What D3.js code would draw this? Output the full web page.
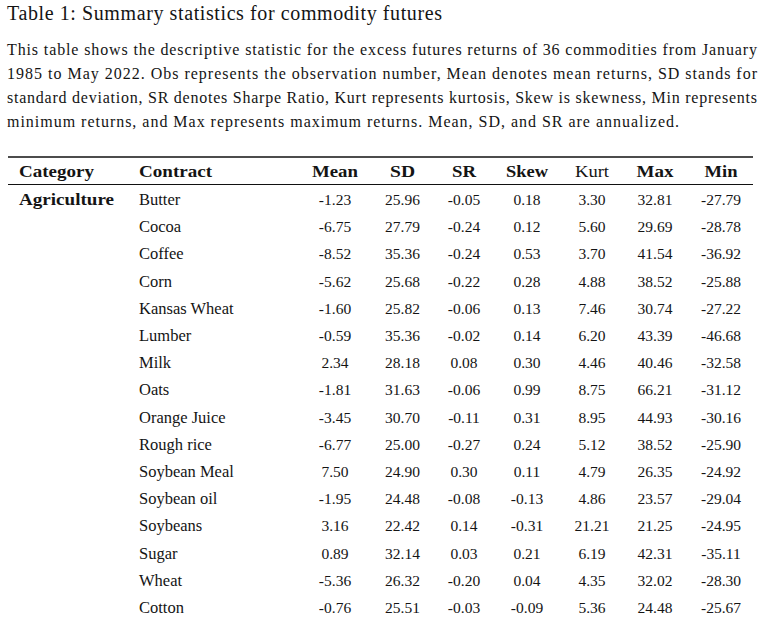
<!DOCTYPE html>
<html>
<head>
<meta charset="utf-8">
<script src="https://cdn.jsdelivr.net/npm/d3@7"></script>
<style>
  body { margin: 0; background: #fff; }
  text { font-family: "Liberation Serif", "DejaVu Serif", serif; fill: #141414; }
</style>
</head>
<body>
<div class="chart"></div>
<script>
// Table data
var title = "Table 1: Summary statistics for commodity futures";
var noteLines = [
  "This table shows the descriptive statistic for the excess futures returns of 36 commodities from January",
  "1985 to May 2022. Obs represents the observation number, Mean denotes mean returns, SD stands for",
  "standard deviation, SR denotes Sharpe Ratio, Kurt represents kurtosis, Skew is skewness, Min represents",
  "minimum returns, and Max represents maximum returns. Mean, SD, and SR are annualized."
];
var columns = ["Mean", "SD", "SR", "Skew", "Kurt", "Max", "Min"];
var category = "Agriculture";
var contracts = ["Butter", "Cocoa", "Coffee", "Corn", "Kansas Wheat", "Lumber", "Milk", "Oats",
  "Orange Juice", "Rough rice", "Soybean Meal", "Soybean oil", "Soybeans", "Sugar", "Wheat", "Cotton"];
var meanVals = [-1.23, -6.75, -8.52, -5.62, -1.60, -0.59, 2.34, -1.81, -3.45, -6.77, 7.50, -1.95, 3.16, 0.89, -5.36, -0.76];
var sdVals = [25.96, 27.79, 35.36, 25.68, 25.82, 35.36, 28.18, 31.63, 30.70, 25.00, 24.90, 24.48, 22.42, 32.14, 26.32, 25.51];
var srVals = [-0.05, -0.24, -0.24, -0.22, -0.06, -0.02, 0.08, -0.06, -0.11, -0.27, 0.30, -0.08, 0.14, 0.03, -0.20, -0.03];
var skewVals = [0.18, 0.12, 0.53, 0.28, 0.13, 0.14, 0.30, 0.99, 0.31, 0.24, 0.11, -0.13, -0.31, 0.21, 0.04, -0.09];
var kurtVals = [3.30, 5.60, 3.70, 4.88, 7.46, 6.20, 4.46, 8.75, 8.95, 5.12, 4.79, 4.86, 21.21, 6.19, 4.35, 5.36];
var maxVals = [32.81, 29.69, 41.54, 38.52, 30.74, 43.39, 40.46, 66.21, 44.93, 38.52, 26.35, 23.57, 21.25, 42.31, 32.02, 24.48];
var minVals = [-27.79, -28.78, -36.92, -25.88, -27.22, -46.68, -32.58, -31.12, -30.16, -25.90, -24.92, -29.04, -24.95, -35.11, -28.30, -25.67];

var svgWidth = 764;
var svgHeight = 620;

var svg = d3.select(".chart")
  .append("svg")
  .attr("width", svgWidth)
  .attr("height", svgHeight);

svg.append("rect")
  .attr("width", svgWidth)
  .attr("height", svgHeight)
  .attr("fill", "#fff");

// Title and caption
svg.append("text")
  .attr("x", 7)
  .attr("y", 20)
  .attr("font-size", "20px")
  .attr("textLength", 435)
  .attr("lengthAdjust", "spacing")
  .text(title);

var noteEnds = [757, 757, 757, 679];
svg.selectAll(".note")
  .data(noteLines)
  .enter()
  .append("text")
  .attr("class", "note")
  .attr("x", 7)
  .attr("y", (d, i) => 55 + i * 24)
  .attr("font-size", "16px")
  .attr("textLength", (d, i) => noteEnds[i] - 7)
  .attr("lengthAdjust", "spacing")
  .text(d => d);

// Scales
var colX = d3.scaleOrdinal()
  .domain(columns)
  .range([335, 402.5, 464, 527, 592, 655, 721]);

var rowY = d3.scaleLinear()
  .domain([0, contracts.length - 1])
  .range([205, 613]);

// Rules
svg.append("line")
  .attr("x1", 8).attr("x2", 753)
  .attr("y1", 157).attr("y2", 157)
  .attr("stroke", "#111")
  .attr("stroke-width", 1.6);

svg.append("line")
  .attr("x1", 8).attr("x2", 753)
  .attr("y1", 184.5).attr("y2", 184.5)
  .attr("stroke", "#111")
  .attr("stroke-width", 1);

// Header (bold CM is wider than Liberation bold, so stretch a little)
var headerY = 177;
var headWidth = { Mean: 46, SD: 25, SR: 24, Skew: 42, Kurt: 34, Max: 37, Min: 33 };

svg.append("text")
  .attr("x", 19).attr("y", headerY)
  .attr("font-size", "16px")
  .attr("font-weight", "bold")
  .attr("textLength", 75)
  .attr("lengthAdjust", "spacingAndGlyphs")
  .text("Category");

svg.append("text")
  .attr("x", 139).attr("y", headerY)
  .attr("font-size", "16px")
  .attr("font-weight", "bold")
  .attr("textLength", 73)
  .attr("lengthAdjust", "spacingAndGlyphs")
  .text("Contract");

svg.selectAll(".colhead")
  .data(columns)
  .enter()
  .append("text")
  .attr("class", "colhead")
  .attr("x", d => colX(d))
  .attr("y", headerY)
  .attr("text-anchor", "middle")
  .attr("font-size", "16px")
  .attr("font-weight", d => d === "Kurt" ? "normal" : "bold")
  .attr("textLength", d => headWidth[d])
  .attr("lengthAdjust", "spacingAndGlyphs")
  .text(d => d);

// Body
svg.append("text")
  .attr("x", 19).attr("y", rowY(0))
  .attr("font-size", "16px")
  .attr("font-weight", "bold")
  .attr("textLength", 95)
  .attr("lengthAdjust", "spacingAndGlyphs")
  .text(category);

svg.selectAll(".contract")
  .data(contracts)
  .enter()
  .append("text")
  .attr("class", "contract")
  .attr("x", 139)
  .attr("y", (d, i) => rowY(i))
  .attr("font-size", "16.5px")
  .text(d => d);

var series = [meanVals, sdVals, srVals, skewVals, kurtVals, maxVals, minVals];
series.forEach(function (vals, c) {
  svg.selectAll(".cell" + c)
    .data(vals)
    .enter()
    .append("text")
    .attr("class", "cell" + c)
    .attr("x", colX(columns[c]))
    .attr("y", (d, i) => rowY(i))
    .attr("text-anchor", "middle")
    .attr("font-size", "15.5px")
    .text(d => d.toFixed(2));
});
</script>
</body>
</html>
